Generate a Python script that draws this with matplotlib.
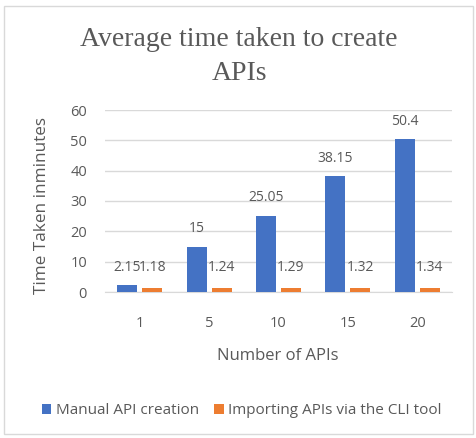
import matplotlib
matplotlib.use("Agg")
import matplotlib.pyplot as plt
from matplotlib.patches import Rectangle
import numpy as np

categories = ["1", "5", "10", "15", "20"]
manual = [2.15, 15, 25.05, 38.15, 50.4]
cli = [1.18, 1.24, 1.29, 1.32, 1.34]
manual_labels = ["2.15", "15", "25.05", "38.15", "50.4"]
cli_labels = ["1.18", "1.24", "1.29", "1.32", "1.34"]

W, H = 477, 438
fig = plt.figure(figsize=(W / 100, H / 100), dpi=100)
fig.patch.set_facecolor("white")
fig.add_artist(Rectangle((4 / W, 1 - 434 / H), 469 / W, 428 / H, transform=fig.transFigure,
                         fill=False, edgecolor="#D9D9D9", linewidth=1))

ax = fig.add_axes([105 / W, 1 - 292 / H, 347 / W, 182 / H])
x = np.arange(len(categories))
bw = 20 / 69.4
off = 12.5 / 69.4
blue = "#4472C4"
orange = "#ED7D31"
ax.bar(x - off, manual, bw, color=blue, zorder=3, label="Manual API creation")
ax.bar(x + off, cli, bw, color=orange, zorder=3, label="Importing APIs via the CLI tool")

font = "Open Sans"
gray = "#595959"
for xi, v, s in zip(x, manual, manual_labels):
    ax.annotate(s, (xi - off, v), xytext=(0, 13), textcoords="offset points",
                ha="center", va="center", fontsize=10, color=gray, family=font)
for xi, v, s in zip(x, cli, cli_labels):
    ax.annotate(s, (xi + off, v), xytext=(0, 15), textcoords="offset points",
                ha="center", va="center", fontsize=10, color=gray, family=font)

ax.set_xlim(-0.5, len(categories) - 0.5)
ax.set_ylim(0, 60)
ax.set_yticks(range(0, 61, 10))
ax.set_xticks(x)
ax.set_xticklabels(categories)
ax.grid(axis="y", color="#D9D9D9", linewidth=1, zorder=0)
for sp in ["top", "right", "left"]:
    ax.spines[sp].set_visible(False)
ax.spines["bottom"].set_color("#D9D9D9")
ax.tick_params(axis="both", length=0, labelsize=10.5, labelcolor=gray)
ax.tick_params(axis="y", pad=13)
ax.tick_params(axis="x", pad=17)
for lab in ax.get_xticklabels() + ax.get_yticklabels():
    lab.set_family(font)

fig.text(42 / W, 1 - 205 / H, "Time Taken inminutes", rotation=90, ha="center", va="center",
         fontsize=12.3, color=gray, family=font)
fig.text(278 / W, 1 - 356 / H, "Number of APIs", ha="center", va="center",
         fontsize=12, color=gray, family=font)
fig.text(239 / W, 1 - 39 / H, "Average time taken to create", ha="center", va="center",
         fontsize=20, color=gray, family="Liberation Serif")
fig.text(239 / W, 1 - 73 / H, "APIs", ha="center", va="center",
         fontsize=20, color=gray, family="Liberation Serif")

leg = fig.legend(loc="center", bbox_to_anchor=(242 / W, 1 - 411 / H), ncol=2, frameon=False,
                 prop={"family": font, "size": 11}, handlelength=0.6, handleheight=0.6,
                 handletextpad=0.3, columnspacing=1.0)
for t in leg.get_texts():
    t.set_color(gray)

fig.savefig("out.png", dpi=100, facecolor="white")
